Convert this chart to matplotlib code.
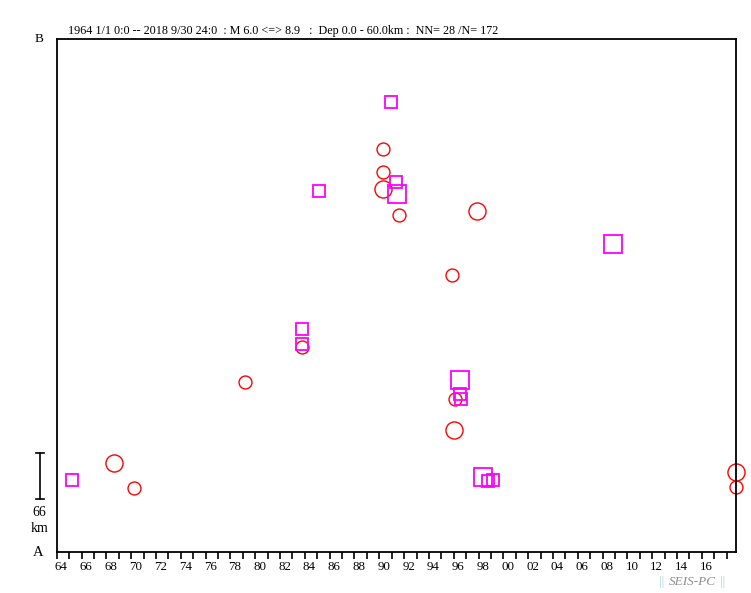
import matplotlib
matplotlib.use("Agg")
import matplotlib.pyplot as plt
from matplotlib.transforms import ScaledTranslation

plt.rcParams['font.family'] = ['Liberation Serif', 'DejaVu Serif']

# ---- data ----
circle_year = [1968.62, 1970.23, 1979.15, 1983.79, 1990.27, 1990.27, 1990.27,
               1991.56, 1997.87, 1995.83, 1996.07, 1995.99, 2018.71, 2018.71]
circle_dist = [128.1, 92.3, 244.3, 294.5, 578.2, 545.2, 520.8,
               483.9, 488.8, 397.4, 219.5, 175.5, 114.3, 93.3]
circle_mag = [7.2, 6.5, 6.5, 6.5, 6.5, 6.5, 7.2,
              6.5, 7.2, 6.5, 6.5, 7.2, 7.2, 6.5]

square_year = [1965.23, 1985.11, 1990.91, 1991.32, 1991.40, 1983.74, 1983.74,
               2008.80, 1996.52, 1996.50, 1996.55, 1998.33, 1998.73, 1999.16]
square_dist = [102.9, 518.4, 646.1, 530.4, 514.1, 319.5, 299.1,
               441.9, 247.2, 226.7, 219.9, 108.0, 102.3, 103.3]
square_mag = [6.5, 6.5, 6.5, 6.5, 7.2, 6.5, 6.5,
              7.2, 7.2, 6.5, 6.5, 7.2, 6.5, 6.5]

tick_years = list(range(1964, 2019))
label_years = list(range(1964, 2017, 2))
scale_km = 66
title_text = "1964 1/1 0:0 -- 2018 9/30 24:0  : M 6.0 <=> 8.9   :  Dep 0.0 - 60.0km :  NN= 28 /N= 172"

x_min, x_max = 1964.0, 2018.75
y_min, y_max = 0.0, 736.0

def msize(m):
    return 9.3 if m < 7.0 else 12.3

# ---- figure ----
fig = plt.figure(figsize=(7.51, 5.93), dpi=100)
ax = fig.add_axes([56.7 / 751, 41 / 593, (736 - 56.7) / 751, (552 - 39) / 593])
ax.set_xlim(x_min, x_max)
ax.set_ylim(y_min, y_max)

for x, y, m in zip(circle_year, circle_dist, circle_mag):
    ax.plot(x, y, marker='o', ms=msize(m), mfc='none', mec='#ff0000', mew=1.0,
            linestyle='none', clip_on=False)
for x, y, m in zip(square_year, square_dist, square_mag):
    ax.plot(x, y, marker='s', ms=msize(m), mfc='none', mec='#ff00ff', mew=1.3,
            linestyle='none', clip_on=False)

for s in ax.spines.values():
    s.set_linewidth(1.3)
    s.set_color('black')

ax.set_yticks([])
ax.set_xticks(tick_years)
ax.set_xticklabels([])
ax.tick_params(axis='x', direction='out', length=5, width=1.2, color='black')

off = ScaledTranslation(4.5 / 100, -3 / 100, fig.dpi_scale_trans)
for yr in label_years:
    ax.text(yr, -0.012, f"{yr % 100:02d}", transform=ax.get_xaxis_transform() + off,
            ha='center', va='top', fontsize=9.3, color='black')

# A / B labels
ax.text(-0.019, 1.0, "B", transform=ax.transAxes, ha='right', va='center', fontsize=9.5)
ax.text(-0.019, 0.0, "A", transform=ax.transAxes, ha='right', va='center', fontsize=10.5)

# scale bar
bar_x = 1962.63
bar_y0 = 75.6
ax.plot([bar_x, bar_x], [bar_y0, bar_y0 + scale_km], color='black', lw=1.2, clip_on=False)
for yy in (bar_y0, bar_y0 + scale_km):
    ax.plot([bar_x - 0.32, bar_x + 0.32], [yy, yy], color='black', lw=1.2, clip_on=False)
ax.text(bar_x, bar_y0 - 19, f"{scale_km}", ha='center', va='center', fontsize=10, clip_on=False)
ax.text(bar_x, bar_y0 - 42, "km", ha='center', va='center', fontsize=10, clip_on=False)

# title
fig.text(68 / 751, 1 - 31 / 593, title_text, ha='left', va='center', fontsize=8.75)

# watermark
wy = 1 - 582 / 593
fig.text(659 / 751, wy, "||", ha='left', va='center', fontsize=9.5, color='#a9cbec')
fig.text(669 / 751, wy, "SEIS-PC", ha='left', va='center', fontsize=9.5,
         color='#8c8c8c', style='italic')
fig.text(720 / 751, wy, "||", ha='left', va='center', fontsize=9.5, color='#a9cbec')

fig.savefig("out.png", dpi=100)
